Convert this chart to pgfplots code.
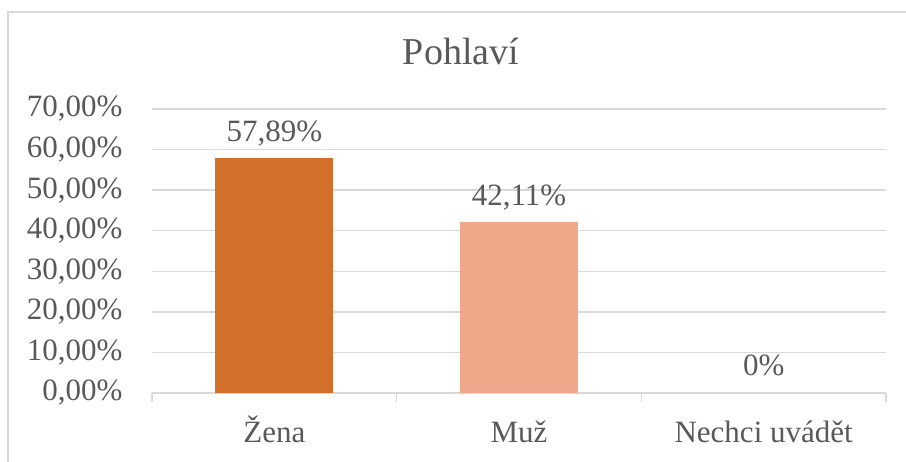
\documentclass[border=0pt]{standalone}
\usepackage{fontspec}
\setmainfont{Liberation Serif}
\usepackage{pgfplots}
\pgfplotsset{compat=1.18}
\definecolor{gridc}{HTML}{D9D9D9}
\definecolor{txt}{HTML}{595959}
\definecolor{zena}{HTML}{D2702B}
\definecolor{muz}{HTML}{F0A88A}
\begin{document}
\begin{tikzpicture}
\begin{axis}[
  at={(0pt,0pt)}, anchor=south west,
  scale only axis, width=734pt, height=284pt,
  xmin=-0.5, xmax=2.5, ymin=0, ymax=70,
  axis lines*=left,
  x axis line style={draw=gridc, line width=1.4pt},
  y axis line style={draw=none},
  ytick={0,10,20,30,40,50,60,70},
  yticklabels={{0,00\%},{10,00\%},{20,00\%},{30,00\%},{40,00\%},{50,00\%},{60,00\%},{70,00\%}},
  ytick style={draw=none},
  ymajorgrids, grid style={draw=gridc, line width=1.4pt},
  xtick={-0.5,0.5,1.5,2.5},
  xticklabels={},
  xtick style={draw=gridc, line width=1.4pt},
  tick align=outside, major tick length=9pt,
  extra x ticks={0,1,2},
  extra x tick labels={Žena,Muž,Nechci uvádět},
  extra x tick style={major tick length=0pt, grid=none, xtick style={draw=none}},
  tick label style={font=\fontsize{31}{36}\selectfont, text=txt},
  yticklabel style={anchor=east, xshift=-17pt},
  xticklabel style={anchor=base, yshift=-50pt},
  bar width=118pt,
  ybar, bar shift=0pt,
  point meta=explicit symbolic,
  nodes near coords,
  every node near coord/.append style={anchor=base, yshift=17pt, font=\fontsize{31}{36}\selectfont, text=txt},
  clip=false,
]
\addplot[fill=zena, draw=none] coordinates {(0,57.89) [57,89\%]};
\addplot[fill=muz, draw=none] coordinates {(1,42.11) [42,11\%]};
\addplot[fill=none, draw=none] coordinates {(2,0) [0\%]};
\end{axis}
\node[anchor=base, font=\fontsize{38}{44}\selectfont, text=txt] at (309pt,328pt) {Pohlaví};
\draw[gridc, line width=1.5pt] (-144pt,-69pt) -- (-144pt,381pt) -- (754pt,381pt);
\pgfresetboundingbox
\path[use as bounding box] (-152pt,-69pt) rectangle (754pt,393pt);
\end{tikzpicture}
\end{document}
